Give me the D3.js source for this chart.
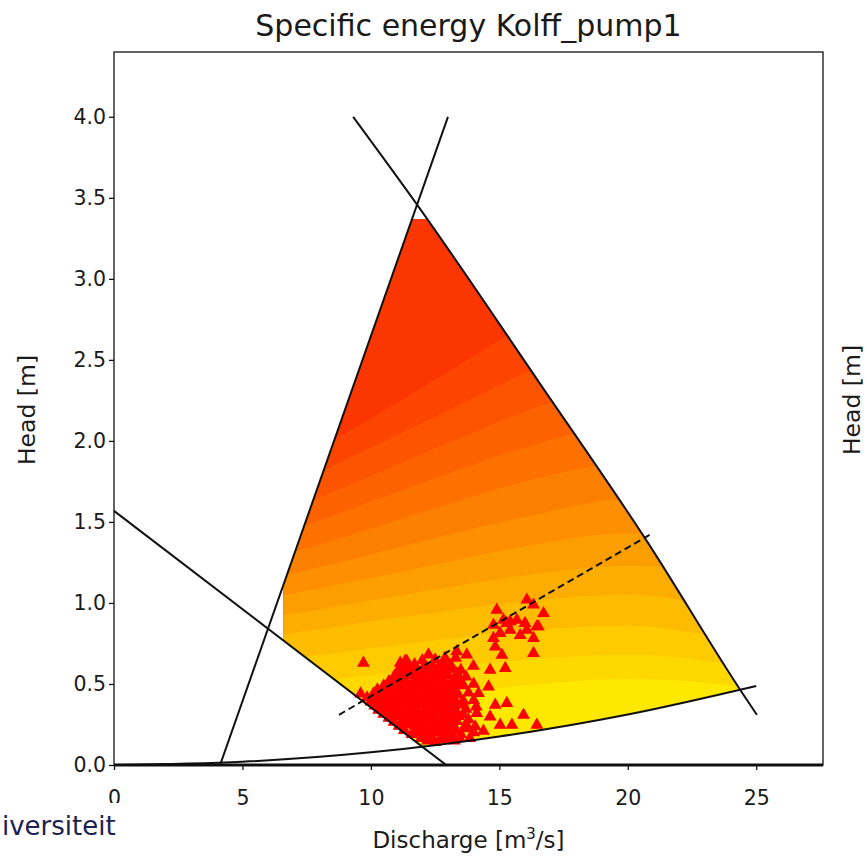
<!DOCTYPE html>
<html>
<head>
<meta charset="utf-8">
<script src="https://cdn.jsdelivr.net/npm/d3@7"></script>
<style>
body { margin: 0; background: #fff; }
text { font-family: "DejaVu Sans", sans-serif; fill: #1a1a1a; }
</style>
</head>
<body>
<div id="chart"></div>
<script>
// axis ticks
var xTicks = [0, 5, 10, 15, 20, 25];
var yTicks = [0.0, 0.5, 1.0, 1.5, 2.0, 2.5, 3.0, 3.5, 4.0];

// operating limit lines [Q, H]
var speedLineQ = [9.31, 11.79, 16.48, 20.75, 24.38, 25.03];
var speedLineH = [4.0, 3.46, 2.377, 1.38, 0.463, 0.309];
var bladeLineQ = [4.13, 13.0];
var bladeLineH = [0.0, 4.0];
var lowLineQ = [0.0, 12.93];
var lowLineH = [1.568, 0.0];
var systemQ = [0, 5, 10, 15, 20, 25];
var systemH = [0, 0.02, 0.078, 0.176, 0.312, 0.488];
var bestQ = [8.76, 20.85];
var bestH = [0.31, 1.42];
var zeroQ = [0, 27.6];
var zeroH = [0, 0];
var qLimit = 6.6, hLimit = 3.37;

// contour band boundaries (head at each discharge), bottom (yellow) to top (red)
var levelQ = [4, 8, 12, 16, 20, 24, 28];
var levels = [
    [0.30, 0.36, 0.42, 0.49, 0.53, 0.49, 0.36],
    [0.45, 0.52, 0.59, 0.65, 0.68, 0.62, 0.48],
    [0.60, 0.68, 0.76, 0.83, 0.86, 0.77, 0.60],
    [0.74, 0.84, 0.93, 1.01, 1.05, 0.95, 0.75],
    [0.86, 0.96, 1.07, 1.17, 1.23, 1.15, 0.95],
    [0.97, 1.09, 1.22, 1.35, 1.43, 1.38, 1.20],
    [1.08, 1.22, 1.38, 1.53, 1.64, 1.62, 1.50],
    [1.19, 1.36, 1.56, 1.75, 1.88, 1.92, 1.85],
    [1.30, 1.51, 1.74, 1.96, 2.12, 2.20, 2.20],
    [1.40, 1.65, 1.92, 2.18, 2.40, 2.55, 2.60],
    [1.50, 1.81, 2.11, 2.42, 2.72, 2.95, 3.10],
    [1.56, 1.95, 2.33, 2.72, 3.10, 3.40, 3.60]
];

// measured operating points [Q, H]
var observed = [
    [12.2,0.15],[12.5,0.14],[12.85,0.155],[13.25,0.15],[13.85,0.165],
    [11.95,0.165],[12.35,0.17],[12.7,0.165],[13.05,0.17],[13.45,0.165],
    [11.6,0.19],[11.9,0.2],[12.2,0.19],[12.55,0.2],[12.8,0.185],[13.1,0.2],[13.5,0.19],[14.0,0.2],
    [11.3,0.215],[11.75,0.22],[12.05,0.215],[12.4,0.22],[12.65,0.21],[12.95,0.22],[13.3,0.215],[13.8,0.225],
    [11.1,0.24],[11.4,0.25],[11.7,0.24],[12.0,0.245],[12.3,0.235],[12.6,0.25],[12.9,0.24],[13.2,0.25],[13.65,0.235],
    [10.9,0.265],[11.25,0.27],[11.55,0.265],[11.85,0.26],[12.15,0.27],[12.45,0.265],[12.75,0.27],[13.0,0.26],[13.35,0.27],
    [10.7,0.29],[11.0,0.3],[11.3,0.285],[11.6,0.295],[11.9,0.29],[12.2,0.3],[12.5,0.285],[12.8,0.295],[13.1,0.29],[13.4,0.3],[13.8,0.28],
    [10.5,0.315],[10.85,0.32],[11.15,0.31],[11.45,0.315],[11.75,0.32],[12.05,0.315],[12.35,0.31],[12.65,0.32],[12.95,0.315],[13.25,0.32],[13.6,0.31],
    [10.3,0.34],[10.6,0.345],[10.9,0.335],[11.2,0.34],[11.5,0.35],[11.8,0.34],[12.1,0.335],[12.4,0.345],[12.7,0.34],[13.0,0.35],[13.3,0.34],[13.7,0.345],[14.1,0.36],
    [10.15,0.365],[10.45,0.37],[10.75,0.365],[11.05,0.36],[11.35,0.37],[11.65,0.365],[11.95,0.37],[12.25,0.36],[12.55,0.365],[12.85,0.37],[13.15,0.365],[13.5,0.37],
    [10.0,0.39],[10.3,0.395],[10.6,0.385],[10.9,0.39],[11.2,0.4],[11.5,0.39],[11.8,0.385],[12.1,0.395],[12.4,0.39],[12.7,0.4],[13.0,0.39],[13.3,0.385],[13.6,0.395],[14.0,0.4],
    [9.85,0.415],[10.15,0.42],[10.45,0.415],[10.75,0.41],[11.05,0.42],[11.35,0.415],[11.65,0.42],[11.95,0.41],[12.25,0.415],[12.55,0.42],[12.85,0.415],[13.2,0.42],
    [10.1,0.44],[10.4,0.445],[10.7,0.435],[11.0,0.44],[11.3,0.45],[11.6,0.44],[11.9,0.435],[12.2,0.445],[12.5,0.44],[12.8,0.45],[13.1,0.44],[13.4,0.435],[13.8,0.445],
    [10.25,0.465],[10.55,0.47],[10.85,0.465],[11.15,0.46],[11.45,0.47],[11.75,0.465],[12.05,0.47],[12.35,0.46],[12.65,0.465],[12.95,0.47],[13.25,0.465],
    [10.5,0.49],[10.9,0.5],[11.2,0.49],[11.5,0.485],[11.8,0.495],[12.1,0.49],[12.4,0.5],[12.7,0.49],[13.0,0.485],[13.3,0.495],[13.6,0.49],[14.0,0.5],
    [10.7,0.515],[11.05,0.52],[11.35,0.515],[11.65,0.51],[11.95,0.52],[12.25,0.515],[12.55,0.52],[12.85,0.51],[13.15,0.515],[13.5,0.52],
    [10.9,0.545],[11.2,0.54],[11.5,0.55],[11.8,0.54],[12.1,0.535],[12.4,0.545],[12.7,0.54],[13.0,0.55],[13.3,0.54],[13.7,0.545],
    [11.0,0.565],[11.35,0.57],[11.65,0.565],[11.95,0.56],[12.3,0.57],[12.6,0.565],[12.95,0.57],[13.35,0.565],
    [11.1,0.59],[11.5,0.6],[11.8,0.585],[12.2,0.595],[12.6,0.59],[12.9,0.6],[13.2,0.59],[13.5,0.585],
    [11.3,0.615],[11.7,0.62],[12.1,0.615],[12.4,0.61],[12.75,0.62],[13.1,0.615],
    [11.4,0.64],[12.0,0.645],[12.5,0.65],[12.9,0.64],[13.3,0.66],
    [9.71,0.63],[9.6,0.44],[10.62,0.48],[11.14,0.63],[11.33,0.64],[12.24,0.68],[12.89,0.66],[13.34,0.70],[13.73,0.68],[13.99,0.61],
    [14.64,0.586],[15.23,0.597],[16.33,0.69],[14.9,0.957],[14.77,0.864],[15.03,0.813],[14.84,0.73],[15.1,0.679],[15.29,0.875],
    [15.68,0.895],[16.07,1.019],[16.33,0.988],[16.72,0.936],[16.52,0.854],[16.07,0.833],[15.81,0.80],[16.33,0.782],[15.42,0.833],
    [14.58,0.483],[14.19,0.442],[14.84,0.37],[15.29,0.381],[15.94,0.309],[14.12,0.319],[14.64,0.298],[15.03,0.247],[15.49,0.247],
    [16.46,0.247],[14.06,0.237],[14.38,0.21],[14.77,0.782],[15.16,0.895],[15.42,0.885],[16.0,0.875],[16.46,0.854]
];

var margin = {top: 52, right: 44, bottom: 95, left: 114},
    width = 867 - margin.left - margin.right,
    height = 860 - margin.top - margin.bottom;

var root = d3.select("#chart")
    .append("svg")
    .attr("width", 867)
    .attr("height", 860);

var svg = root.append("g")
    .attr("transform", "translate(" + margin.left + "," + margin.top + ")");

var x = d3.scaleLinear().domain([0, 27.6]).range([0, width]);
var y = d3.scaleLinear().domain([0, 4.4]).range([height, 0]);

function pairs(qs, hs) {
    return qs.map(function(q, i) { return [q, hs[i]]; });
}

// stretch a polyline at both ends so it can close a clip region
function extend(pts, k) {
    var a = pts[0], b = pts[1], m = pts[pts.length - 2], n = pts[pts.length - 1];
    return [[a[0] - k * (b[0] - a[0]), a[1] - k * (b[1] - a[1])]]
        .concat(pts)
        .concat([[n[0] + k * (n[0] - m[0]), n[1] + k * (n[1] - m[1])]]);
}

var line = d3.line().x(d => x(d[0])).y(d => y(d[1]));
var smooth = d3.line().x(d => x(d[0])).y(d => y(d[1])).curve(d3.curveMonotoneX);

var speedPts = pairs(speedLineQ, speedLineH);
var bladePts = pairs(bladeLineQ, bladeLineH);
var lowPts = pairs(lowLineQ, lowLineH);
var systemPts = pairs(systemQ, systemH);

// clip paths for the operating region
var defs = svg.append("defs");
function addClip(id, d) {
    defs.append("clipPath").attr("id", id).append("path").attr("d", d);
}
addClip("clipLimit", "M" + x(qLimit) + "," + y(hLimit) + "H" + x(40) + "V" + y(-5) + "H" + x(qLimit) + "Z");
addClip("clipSpeed", smooth(extend(speedPts, 10)) + "L" + x(-30) + "," + y(-30) + "Z");
addClip("clipBlade", line(extend(bladePts, 3)) + "L" + x(60) + "," + y(-30) + "Z");
addClip("clipLow", line(extend(lowPts, 3)) + "L" + x(60) + "," + y(40) + "Z");
addClip("clipSystem", smooth(extend(systemPts, 10)) + "L" + x(75) + "," + y(20) + "L" + x(-50) + "," + y(20) + "Z");

var fill = svg.append("g").attr("clip-path", "url(#clipLimit)")
    .append("g").attr("clip-path", "url(#clipSpeed)")
    .append("g").attr("clip-path", "url(#clipBlade)")
    .append("g").attr("clip-path", "url(#clipLow)")
    .append("g").attr("clip-path", "url(#clipSystem)");

var color = d3.scaleLinear()
    .domain([0, levels.length])
    .range(["#fee800", "#fb3600"])
    .interpolate(d3.interpolateRgb);

// top band first, then paint each lower band over it
fill.append("rect")
    .attr("x", 0).attr("y", 0)
    .attr("width", width).attr("height", height)
    .attr("fill", color(levels.length));

var band = d3.area()
    .x(d => x(d[0]))
    .y0(y(-1))
    .y1(d => y(d[1]))
    .curve(d3.curveMonotoneX);

for (var i = levels.length - 1; i >= 0; i--) {
    fill.append("path")
        .attr("d", band(pairs(levelQ, levels[i])))
        .attr("fill", color(i));
}

// operating points
svg.selectAll(".obs")
    .data(observed)
    .enter()
    .append("path")
    .attr("class", "obs")
    .attr("d", d3.symbol().type(d3.symbolTriangle).size(72))
    .attr("transform", d => "translate(" + x(d[0]) + "," + y(d[1]) + ")")
    .attr("fill", "#ff0000");

// limit lines
svg.append("path").attr("d", smooth(speedPts))
    .attr("fill", "none").attr("stroke", "#111").attr("stroke-width", 2);
svg.append("path").attr("d", line(bladePts))
    .attr("fill", "none").attr("stroke", "#111").attr("stroke-width", 2);
svg.append("path").attr("d", line(lowPts))
    .attr("fill", "none").attr("stroke", "#111").attr("stroke-width", 2);
svg.append("path").attr("d", smooth(systemPts))
    .attr("fill", "none").attr("stroke", "#111").attr("stroke-width", 2);
svg.append("path").attr("d", line(pairs(zeroQ, zeroH)))
    .attr("fill", "none").attr("stroke", "#111").attr("stroke-width", 3);
svg.append("path").attr("d", line(pairs(bestQ, bestH)))
    .attr("fill", "none").attr("stroke", "#111").attr("stroke-width", 2)
    .attr("stroke-dasharray", "7,4");

// Add X axis
var xAxis = svg.append("g")
    .attr("transform", "translate(0," + height + ")")
    .call(d3.axisBottom(x).tickValues(xTicks).tickSize(5).tickPadding(20).tickFormat(d3.format("d")));
xAxis.select(".domain").remove();
xAxis.selectAll("text").style("font-size", "20.5px").attr("fill", "#1a1a1a");
xAxis.selectAll("line").attr("stroke", "#111").attr("stroke-width", 1.3);

// Add Y axis
var yAxis = svg.append("g")
    .call(d3.axisLeft(y).tickValues(yTicks).tickSize(5).tickPadding(3).tickFormat(d3.format(".1f")));
yAxis.select(".domain").remove();
yAxis.selectAll("text").style("font-size", "20.5px").attr("fill", "#1a1a1a");
yAxis.selectAll("line").attr("stroke", "#111").attr("stroke-width", 1.3);

// frame
svg.append("rect")
    .attr("width", width).attr("height", height)
    .attr("fill", "none").attr("stroke", "#111").attr("stroke-width", 1.3);

// title and labels
svg.append("text")
    .attr("x", width / 2)
    .attr("y", -16)
    .attr("text-anchor", "middle")
    .style("font-size", "30px")
    .text("Specific energy Kolff_pump1");

var xl = root.append("text")
    .attr("x", margin.left + width / 2)
    .attr("y", 848)
    .attr("text-anchor", "middle")
    .style("font-size", "23px");
xl.append("tspan").text("Discharge [m");
xl.append("tspan").attr("dy", -9).style("font-size", "15px").text("3");
xl.append("tspan").attr("dy", 9).text("/s]");

root.append("text")
    .attr("transform", "translate(35,410) rotate(-90)")
    .attr("text-anchor", "middle")
    .style("font-size", "23.5px")
    .text("Head [m]");

// neighbouring panel label, cut by the edge
root.append("text")
    .attr("transform", "translate(860,400) rotate(-90)")
    .attr("text-anchor", "middle")
    .style("font-size", "23.5px")
    .text("Head [m]");

// logo strip in the corner
root.append("rect")
    .attr("x", 0).attr("y", 803)
    .attr("width", 124).attr("height", 57)
    .attr("fill", "#fff");
root.append("text")
    .attr("x", 2)
    .attr("y", 835)
    .style("font-size", "26px")
    .style("fill", "#1c2152")
    .text("iversiteit");
</script>
</body>
</html>
